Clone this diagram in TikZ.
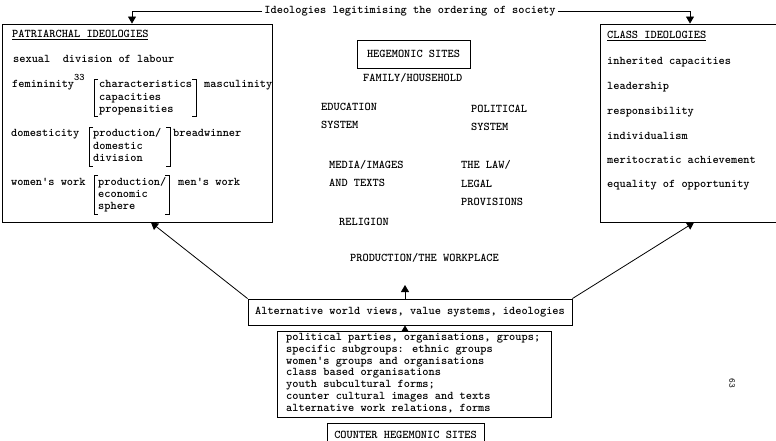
\documentclass[tikz,border=0pt]{standalone}
\usetikzlibrary{arrows.meta}
\begin{document}
\begin{tikzpicture}[x=1pt,y=-1pt,
  every node/.style={font=\fontsize{11.8}{12}\selectfont\ttfamily\bfseries, inner sep=0pt},
  txt/.style={anchor=west, text height=7pt, text depth=2pt},
  box/.style={draw, line width=0.9pt},
  arr/.style={-{Triangle[length=7pt,width=8pt]}, line width=0.8pt},
  sarr/.style={-{Triangle[length=6pt,width=7pt]}, line width=0.8pt},
  brk/.style={line width=0.9pt}]
\useasboundingbox (0,0) rectangle (776,440);
\clip (0,0) rectangle (776,440);
% boxes
\node[box, minimum width=270pt, minimum height=198pt] (pat) at (137,123) {};
\node[box, minimum width=182pt, minimum height=198pt] (cls) at (691,123) {};
\node[box, minimum width=113pt, minimum height=28pt] (heg) at (413.5,54) {HEGEMONIC SITES};
\node[box, minimum width=324pt, minimum height=26pt] (alt) at (410,312) {Alternative world views, value systems, ideologies};
\node[box, minimum width=274pt, minimum height=86pt] (lst) at (414,374) {};
\node[box, minimum width=157pt, minimum height=24pt] (ctr) at (405.5,435) {COUNTER HEGEMONIC SITES};
% title and connectors
\node (title) at (410,11) {Ideologies legitimising the ordering of society};
\draw[arr] ([xshift=-2pt]title.west) -| ([xshift=-5pt]pat.north);
\draw[arr] ([xshift=2pt]title.east) -| ([xshift=-1pt]cls.north);
\draw[arr] (alt.north west) -- ([xshift=14pt]pat.south);
\draw[arr] (alt.north east) -- ([xshift=3pt]cls.south);
\coordinate (up) at (405,285);
\draw[arr] (alt.north -| up) -- (up);
\draw[sarr] (lst.north -| up) -- (alt.south -| up);
% patriarchal ideologies
\node[txt] (p0) at (12,35) {\underline{PATRIARCHAL IDEOLOGIES}};
\node[txt] (p1) at (13,60) {sexual\ \ division of labour};
\node[txt] (p2) at (12,85) {femininity};
\node[txt, font=\fontsize{10}{10}\selectfont\ttfamily\bfseries] (p2s) at (74,78) {33};
\node[txt] (p2a) at (99,85) {characteristics};
\node[txt] (p2b) at (99,97.5) {capacities};
\node[txt] (p2c) at (99,110) {propensities};
\node[txt] (p2m) at (204,85) {masculinity};
\draw[brk] (98,79) -- (94,79) -- (94,116) -- (98,116);
\draw[brk] (192,79) -- (196,79) -- (196,116) -- (192,116);
\node[txt] (p3) at (11,134) {domesticity};
\node[txt] (p3a) at (93,134) {production/};
\node[txt] (p3b) at (93,147) {domestic};
\node[txt] (p3c) at (93,159) {division};
\node[txt] (p3m) at (173,134) {breadwinner};
\draw[brk] (93,127) -- (89,127) -- (89,166) -- (93,166);
\draw[brk] (166,127) -- (170,127) -- (170,166) -- (166,166);
\node[txt] (p4) at (11,183) {women's work};
\node[txt] (p4a) at (98,183) {production/};
\node[txt] (p4b) at (98,195) {economic};
\node[txt] (p4c) at (98,207) {sphere};
\node[txt] (p4m) at (178,183) {men's work};
\draw[brk] (98,175) -- (94,175) -- (94,214) -- (98,214);
\draw[brk] (165,175) -- (169,175) -- (169,214) -- (165,214);
% class ideologies
\node[txt] (c0) at (607,36) {\underline{CLASS IDEOLOGIES}};
\node[txt] (c1) at (607,62) {inherited capacities};
\node[txt] (c2) at (607,87) {leadership};
\node[txt] (c3) at (607,112) {responsibility};
\node[txt] (c4) at (607,137) {individualism};
\node[txt] (c5) at (607,161) {meritocratic achievement};
\node[txt] (c6) at (607,185) {equality of opportunity};
% hegemonic sites
\node[txt] (h1) at (363,79) {FAMILY/HOUSEHOLD};
\node[txt] (h2) at (321,108) {EDUCATION};
\node[txt] (h3) at (321,126) {SYSTEM};
\node[txt] (h4) at (471,110) {POLITICAL};
\node[txt] (h5) at (471,128) {SYSTEM};
\node[txt] (h6) at (329,166) {MEDIA/IMAGES};
\node[txt] (h7) at (329,184) {AND TEXTS};
\node[txt] (h8) at (461,166) {THE LAW/};
\node[txt] (h9) at (461,185) {LEGAL};
\node[txt] (h10) at (461,203) {PROVISIONS};
\node[txt] (h11) at (339,223) {RELIGION};
\node[txt] (h12) at (350,259) {PRODUCTION/THE WORKPLACE};
% counter hegemonic list
\foreach \t [count=\i from 0] in {{political parties, organisations, groups;},{specific subgroups: ethnic groups},{women's groups and organisations},{class based organisations},{youth subcultural forms;},{counter cultural images and texts},{alternative work relations, forms}}
  \node[txt] (l\i) at (286,338+11.8*\i) {\t};
% page number
\node[rotate=-90, font=\fontsize{9}{9}\selectfont\ttfamily] (pg) at (732,383) {63};
\end{tikzpicture}
\end{document}
